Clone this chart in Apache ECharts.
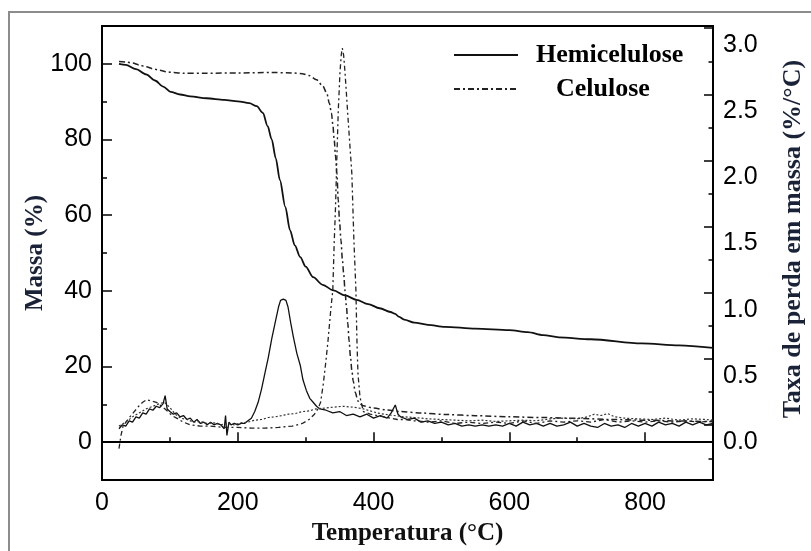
<!DOCTYPE html>
<html><head><meta charset="utf-8">
<script src="https://cdn.jsdelivr.net/npm/echarts@6/dist/echarts.min.js"></script>
<style>
html,body{margin:0;padding:0;background:#fff;}
#frame{position:absolute;left:8px;top:11px;width:803px;height:540px;border-left:2px solid #8c8c8c;border-top:2px solid #8c8c8c;box-sizing:border-box;}
#chart{position:absolute;left:0;top:0;width:811px;height:551px;}
</style></head><body>
<div id="frame"></div>
<div id="chart"></div>
<script>
// Temperature (°C) vs mass (%) — TG curves, left axis
const hemicelluloseTG = [[25,100],[35,99.7],[50,98.6],[65,97.2],[78,95.6],[90,94],[101,92.6],[115,91.9],[130,91.4],[154,90.9],[180,90.5],[200,90.1],[217,89.6],[228,88.8],[237,87],[244,83.5],[250,80],[256,75],[262,69.3],[270,62.2],[277,56],[284,52],[292,48.9],[300,46.4],[311,43.6],[325,41.6],[341,40.1],[358,38.8],[375,37.6],[392,36.5],[409,35.4],[425,34.4],[432,33.9],[437,33.2],[445,32.4],[460,31.6],[480,31.0],[505,30.5],[550,30.0],[600,29.6],[627,29.1],[650,28.3],[673,27.7],[720,27.2],[795,26.1],[850,25.6],[900,24.9]];
const celluloseTG = [[25,100.6],[35,100.5],[45,100.2],[55,99.7],[65,99.2],[75,98.7],[85,98.3],[95,97.9],[105,97.7],[120,97.5],[150,97.5],[200,97.6],[250,97.7],[280,97.6],[295,97.4],[305,96.9],[316,95.8],[325,94.2],[331,92.3],[335,89.5],[338,87],[340,84],[342,80],[344,75.5],[346,71],[348,64],[350,58],[352,53.4],[354,48.5],[356,44.5],[358,40],[360,36],[362,31.5],[364,26.8],[366,22.5],[368,19],[370,16.2],[373,13.2],[377,10.9],[381,10.0],[385,9.6],[400,9.0],[420,8.5],[440,8.1],[470,7.7],[508,7.3],[550,7.0],[600,6.7],[650,6.5],[700,6.3],[750,6.0],[800,5.8],[850,5.6],[900,5.4]];
// Temperature (°C) vs mass-loss rate (%/°C) — DTG curves, right axis
const hemicelluloseDTG = [[25,0.10],[30,0.13],[35,0.12],[40,0.16],[45,0.15],[50,0.19],[55,0.18],[60,0.22],[65,0.21],[70,0.25],[75,0.24],[80,0.27],[85,0.26],[90,0.29],[93,0.35],[96,0.25],[100,0.23],[105,0.21],[110,0.22],[115,0.19],[120,0.20],[125,0.17],[130,0.18],[135,0.15],[140,0.17],[145,0.14],[150,0.15],[155,0.13],[160,0.15],[165,0.13],[170,0.14],[175,0.13],[180,0.10],[182,0.20],[184,0.05],[187,0.15],[190,0.13],[195,0.14],[200,0.13],[205,0.14],[210,0.14],[215,0.16],[220,0.18],[225,0.23],[230,0.30],[235,0.40],[240,0.52],[245,0.64],[250,0.78],[255,0.90],[260,1.02],[263,1.07],[267,1.08],[271,1.07],[274,1.02],[278,0.90],[282,0.79],[287,0.67],[292,0.58],[296,0.47],[301,0.39],[306,0.33],[311,0.30],[316,0.27],[321,0.25],[330,0.24],[340,0.22],[350,0.23],[360,0.20],[370,0.21],[380,0.19],[390,0.21],[400,0.18],[410,0.20],[420,0.18],[426,0.22],[432,0.28],[436,0.21],[440,0.19],[450,0.17],[460,0.18],[470,0.15],[480,0.16],[490,0.14],[500,0.15],[510,0.13],[520,0.14],[530,0.12],[540,0.13],[550,0.12],[560,0.13],[570,0.12],[580,0.13],[590,0.12],[600,0.14],[610,0.12],[620,0.15],[630,0.13],[640,0.14],[650,0.12],[660,0.14],[670,0.12],[680,0.13],[690,0.15],[700,0.12],[710,0.14],[720,0.12],[730,0.11],[740,0.14],[750,0.12],[760,0.13],[770,0.11],[780,0.14],[790,0.12],[800,0.14],[810,0.12],[820,0.15],[830,0.13],[840,0.14],[850,0.12],[860,0.15],[870,0.13],[880,0.15],[890,0.13],[900,0.14]];
const celluloseDTG = [[25,-0.05],[28,0.05],[31,0.12],[38,0.17],[46,0.22],[54,0.27],[60,0.30],[66,0.32],[72,0.31],[80,0.30],[88,0.27],[95,0.24],[103,0.20],[110,0.18],[120,0.15],[130,0.13],[145,0.12],[160,0.12],[180,0.11],[200,0.11],[220,0.105],[240,0.105],[260,0.11],[280,0.12],[295,0.14],[305,0.17],[313,0.21],[318,0.25],[322,0.30],[326,0.44],[330,0.62],[333,0.77],[337,1.00],[340,1.15],[342,1.50],[344,1.78],[346,2.16],[348,2.50],[350.5,2.79],[352.5,2.93],[354,2.976],[356,2.92],[358,2.79],[363,2.40],[368,2.03],[371,1.53],[374,1.15],[375.5,0.77],[377,0.52],[380,0.34],[385,0.23],[395,0.21],[405,0.20],[415,0.19],[425,0.18],[435,0.17],[445,0.17],[460,0.16],[480,0.15],[500,0.16],[520,0.14],[540,0.15],[560,0.14],[580,0.15],[600,0.14],[620,0.16],[640,0.14],[660,0.16],[680,0.15],[700,0.16],[720,0.15],[740,0.17],[760,0.15],[780,0.16],[800,0.15],[820,0.16],[840,0.15],[860,0.16],[880,0.15],[900,0.16]];
const ligninDTG = [[25,0.12],[35,0.15],[45,0.19],[55,0.22],[65,0.25],[75,0.27],[85,0.29],[92,0.30],[100,0.26],[108,0.21],[116,0.18],[125,0.17],[135,0.15],[145,0.155],[155,0.14],[165,0.145],[175,0.13],[185,0.14],[195,0.13],[205,0.145],[215,0.15],[225,0.165],[235,0.17],[245,0.185],[255,0.19],[265,0.20],[275,0.21],[285,0.215],[295,0.23],[305,0.235],[315,0.25],[325,0.255],[335,0.26],[345,0.265],[355,0.27],[365,0.265],[375,0.26],[385,0.25],[395,0.235],[405,0.22],[415,0.21],[430,0.20],[445,0.19],[460,0.185],[480,0.175],[500,0.17],[520,0.165],[540,0.16],[560,0.165],[580,0.155],[600,0.16],[620,0.165],[640,0.16],[660,0.175],[680,0.18],[700,0.175],[715,0.19],[725,0.21],[735,0.20],[745,0.215],[755,0.19],[770,0.18],[790,0.175],[810,0.17],[830,0.18],[850,0.165],[870,0.175],[890,0.17],[900,0.165]];

const legendNames = ['Hemicelulose', 'Celulose'];
const xTitle = 'Temperatura (°C)';
const yLeftTitle = 'Massa (%)';
const yRightTitle = 'Taxa de perda em massa (%/°C)';

const SANS = '"Liberation Sans", Arial, Helvetica, sans-serif';
const SERIF = '"Liberation Serif", "Times New Roman", serif';
const tickLabel = {fontSize:25, fontFamily:SANS, color:'#000'};
const titleStyle = {fontSize:25, fontFamily:SERIF, fontWeight:'bold', color:'#1a2238'};
const legendText = {fontSize:26, fontFamily:SERIF, fontWeight:'bold', color:'#000'};

const chart = echarts.init(document.getElementById('chart'), null, {renderer:'canvas'});
chart.setOption({
  animation:false,
  backgroundColor:'transparent',
  grid:{left:102, right:98, top:26, bottom:71, show:true, borderColor:'#000', borderWidth:2, backgroundColor:'transparent', containLabel:false, outerBoundsMode:'none'},
  legend:[
    {data:[legendNames[0]], left:453, top:42, padding:0, itemWidth:64, itemHeight:14,
     itemStyle:{opacity:0},
     textStyle:Object.assign({padding:[0,0,0,13]}, legendText)},
    {data:[legendNames[1]], left:453, top:76, padding:0, itemWidth:64, itemHeight:14,
     itemStyle:{opacity:0},
     textStyle:Object.assign({padding:[0,0,0,33]}, legendText)}
  ],
  xAxis:{
    type:'value', min:0, max:900, interval:200,
    name:xTitle, nameLocation:'middle', nameGap:37,
    nameTextStyle:Object.assign({}, titleStyle, {color:'#111'}),
    axisLine:{show:true, lineStyle:{color:'#000', width:2}},
    axisTick:{show:true, inside:true, length:10, lineStyle:{color:'#000', width:1.5}},
    minorTick:{show:true, splitNumber:2, length:5, lineStyle:{color:'#000', width:1.5}},
    axisLabel:Object.assign({margin:11, showMaxLabel:false}, tickLabel),
    splitLine:{show:false}
  },
  yAxis:[
    {
      type:'value', position:'left', min:-10, max:110, splitNumber:6,
      name:yLeftTitle, nameLocation:'middle', nameGap:54, nameRotate:90, nameMoveOverlap:false,
      nameTextStyle:titleStyle,
      axisLine:{show:true, lineStyle:{color:'#000', width:2}},
      axisTick:{show:true, inside:true, length:10, lineStyle:{color:'#000', width:1.5}},
      minorTick:{show:true, splitNumber:2, length:5, lineStyle:{color:'#000', width:1.5}},
      axisLabel:Object.assign({margin:10, showMinLabel:false, showMaxLabel:false}, tickLabel),
      splitLine:{show:false}
    },
    {
      type:'value', position:'right', min:-0.2872, max:3.1435, splitNumber:6,
      name:yRightTitle, nameLocation:'middle', nameGap:67, nameRotate:90,
      nameTextStyle:Object.assign({}, titleStyle, {fontSize:26, padding:[0,0,0,28]}),
      axisLine:{show:true, lineStyle:{color:'#000', width:2}},
      axisTick:{show:false},
      axisLabel:Object.assign({margin:10, showMinLabel:false, showMaxLabel:false, formatter:function(v){return v.toFixed(1);}}, tickLabel),
      splitLine:{show:false}
    },
    {
      type:'value', position:'right', min:-0.4142, max:3.0165, splitNumber:6,
      axisLine:{show:false},
      axisTick:{show:true, inside:true, length:9, lineStyle:{color:'#000', width:1.5}},
      minorTick:{show:true, splitNumber:2, length:4.5, lineStyle:{color:'#000', width:1.5}},
      axisLabel:{show:false},
      splitLine:{show:false}
    }
  ],
  series:[
    {name:legendNames[0], type:'line', yAxisIndex:0, data:hemicelluloseTG, symbol:'none', showSymbol:false,
     smooth:0.3, smoothMonotone:'x', itemStyle:{color:'#111'}, lineStyle:{color:'#111', width:1.8}},
    {name:legendNames[1], type:'line', yAxisIndex:0, data:celluloseTG, symbol:'none', showSymbol:false,
     smooth:0.3, smoothMonotone:'x', itemStyle:{color:'#222'}, lineStyle:{color:'#222', width:1.5, type:[6,3,2,3]}},
    {name:legendNames[0], type:'line', yAxisIndex:1, data:hemicelluloseDTG, symbol:'none', showSymbol:false,
     itemStyle:{color:'#111'}, lineStyle:{color:'#111', width:1.3}},
    {name:legendNames[1], type:'line', yAxisIndex:1, data:celluloseDTG, symbol:'none', showSymbol:false,
     itemStyle:{color:'#222'}, lineStyle:{color:'#222', width:1.3, type:[5,3,2,3]}},
    {name:'Lignina', type:'line', yAxisIndex:1, data:ligninDTG, symbol:'none', showSymbol:false,
     itemStyle:{color:'#333'}, lineStyle:{color:'#333', width:1.2, type:[2,2]}}
  ]
});
</script>
</body></html>
